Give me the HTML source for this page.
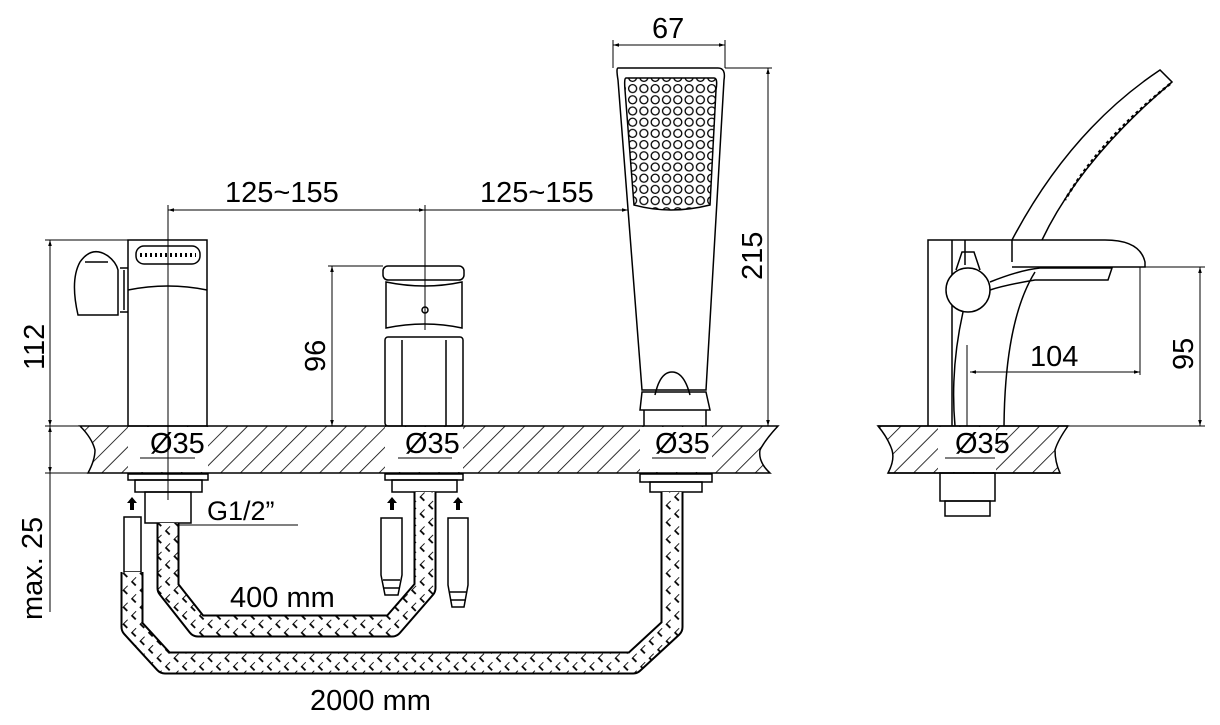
<!DOCTYPE html>
<html><head><style>body{margin:0;background:#fff}svg{display:block}text{font-family:"Liberation Sans",sans-serif;fill:#000}</style></head><body>
<svg width="1220" height="725" viewBox="0 0 1220 725" xmlns="http://www.w3.org/2000/svg">
<defs>
<pattern id="h" width="14" height="14" patternUnits="userSpaceOnUse" patternTransform="rotate(45)"><line x1="0" y1="0" x2="0" y2="14" stroke="#000" stroke-width="1.6"/></pattern>
<pattern id="xh" width="12" height="12" patternUnits="userSpaceOnUse" patternTransform="rotate(45)"><rect width="12" height="12" fill="#fff"/><line x1="0" y1="0" x2="0" y2="6" stroke="#000" stroke-width="1.8"/><line x1="0" y1="6" x2="6" y2="6" stroke="#000" stroke-width="1.8"/></pattern>
<pattern id="dp" x="627" y="83" width="11.3" height="11.2" patternUnits="userSpaceOnUse"><circle cx="5.6" cy="5.6" r="4" fill="none" stroke="#000" stroke-width="1.3"/></pattern>
<marker id="a" viewBox="0 0 10 10" refX="10" refY="5" markerWidth="8" markerHeight="6" orient="auto-start-reverse"><path d="M0,2 L10,5 L0,8z" fill="#000"/></marker>
</defs>
<g fill="none" stroke="#000" stroke-width="1.5">
<path d="M80,426 H778 Q765,440 760,450 Q758,462 770,473 H88 Q95,460 95,450 Q92,438 80,426z" fill="url(#h)"/>
<rect x="128" y="427" width="80" height="45" fill="#fff" stroke="none"/>
<rect x="385" y="427" width="78" height="45" fill="#fff" stroke="none"/>
<rect x="640" y="427" width="72" height="45" fill="#fff" stroke="none"/>
<path d="M878,426 H1068 Q1058,440 1055,450 Q1055,462 1060,473 H888 Q895,460 892,450 Q888,438 878,426z" fill="url(#h)"/>
<rect x="938" y="427" width="58" height="45" fill="#fff" stroke="none"/>
<path d="M878,426 H1068 M888,473 H1060"/>
<rect x="128" y="240" width="79" height="186"/>
<rect x="136" y="246" width="64" height="18" rx="8"/>
<path d="M140,255 H196" stroke-dasharray="2 3" stroke-width="4"/>
<path d="M128,290 Q168,282 207,290"/>
<path d="M124,270 V310 M120,268 H128 M120,312 H128"/>
<path d="M78,315 Q70,280 80,262 Q92,245 108,256 Q116,262 118,270 V315z"/>
<path d="M85,262 H108"/>
<rect x="383" y="266" width="81" height="14" rx="5"/>
<path d="M386,282 Q425,290 462,282 V328 Q425,320 386,328z"/>
<circle cx="425" cy="310" r="3"/>
<rect x="385" y="337" width="78" height="89" rx="3"/>
<path d="M402,340 V426 M446,340 V426"/>
<path d="M618,68 H718 Q726,68 724,80 L706,390 H642 L618,80 Q616,68 618,68z"/>
<path d="M626,78 H714 Q718,78 716,90 L710,205 Q670,215 634,205 L625,90 Q624,78 626,78z" fill="url(#dp)"/>
<path d="M655,395 Q660,372 672,372 Q684,372 690,395"/>
<path d="M642,392 H706 L710,410 H640z M644,410 V426 M706,410 V426"/>
<path d="M928,426 V240 H1105 Q1140,240 1145,262 V267 H1012"/>
<path d="M952,240 V426 M965,240 V265 M1012,240 V262"/>
<circle cx="968" cy="290" r="22" fill="#fff"/>
<path d="M956,270 L962,252 L974,252 L980,270"/>
<path d="M990,282 Q1020,270 1040,268 H1112 L1108,280 H1035 Q1005,285 990,290"/>
<path d="M963,312 Q950,370 955,426 M1035,272 Q1005,320 1004,426"/>
<path d="M1012,240 Q1070,130 1160,70 L1172,82 Q1080,160 1042,240"/>
<path d="M1170,84 Q1100,140 1065,200" stroke-dasharray="3 3" stroke-width="2.5"/>
<rect x="940" y="473" width="55" height="28"/>
<rect x="945" y="501" width="45" height="15"/>
<rect x="128" y="474" width="80" height="6"/><rect x="135" y="480" width="67" height="12"/>
<rect x="145" y="492" width="46" height="31"/>
<path d="M160,525 H298" stroke-width="1"/>
<rect x="385" y="474" width="78" height="6"/><rect x="392" y="480" width="65" height="12"/>
<rect x="640" y="474" width="72" height="8"/><rect x="650" y="482" width="52" height="10"/>
<rect x="124" y="517" width="17" height="55"/>
<path d="M381,518 H402 V575 L398,595 H385 L381,575z"/>
<path d="M448,518 H468 V585 L464,607 H452 L448,585z"/>
<path d="M383,580 H400 M383,588 H400 M450,592 H466 M450,600 H466"/>
</g>
<g fill="#000">
<path d="M132,497 l-5,6 h3 v7 h4 v-7 h3z"/>
<path d="M392,497 l-5,6 h3 v7 h4 v-7 h3z"/>
<path d="M458,497 l-5,6 h3 v7 h4 v-7 h3z"/>
</g>
<g fill="none" stroke-linejoin="round">
<path id="h1" d="M168,523 V588 L198,626 H392 L425,588 V492"/>
<path id="h2" d="M132,572 V627 L165,663 H633 L672,627 V492"/>
<use href="#h1" stroke="#000" stroke-width="23"/><use href="#h1" stroke="url(#xh)" stroke-width="19"/>
<use href="#h2" stroke="#000" stroke-width="23"/><use href="#h2" stroke="url(#xh)" stroke-width="19"/>
</g>
<g fill="none" stroke="#000" stroke-width="1">
<path d="M168,205 V500 M425,205 V330"/>
<path d="M168,210 H425" marker-start="url(#a)" marker-end="url(#a)"/>
<path d="M425,210 H628" marker-end="url(#a)"/>
<path d="M613,40 V68 M725,40 V68"/><path d="M613,45 H725" marker-start="url(#a)" marker-end="url(#a)"/>
<path d="M725,68 H772 M712,426 H772"/><path d="M768,68 V426" marker-start="url(#a)" marker-end="url(#a)"/>
<path d="M45,240 H128 M45,426 H80 M45,473 H88"/><path d="M50,240 V426" marker-start="url(#a)" marker-end="url(#a)"/>
<path d="M50,426 V473" marker-start="url(#a)" marker-end="url(#a)"/><path d="M50,473 V612"/>
<path d="M328,266 H383"/><path d="M332,266 V426" marker-start="url(#a)" marker-end="url(#a)"/>
<path d="M1145,267 H1205 M1010,426 H1205"/><path d="M1200,267 V426" marker-start="url(#a)" marker-end="url(#a)"/>
<path d="M1140,267 V375 M967,345 V426"/><path d="M970,372 H1140" marker-start="url(#a)" marker-end="url(#a)"/>
<path d="M140,458 H195 M398,458 H452 M652,458 H706 M945,458 H995"/>
</g>
<g font-size="29">
<text x="225" y="202">125~155</text>
<text x="480" y="202">125~155</text>
<text x="652" y="38">67</text>
<text x="1030" y="366">104</text>
<text x="230" y="607">400 mm</text>
<text x="310" y="710">2000 mm</text>
<text x="150" y="453">Ø35</text>
<text x="405" y="453">Ø35</text>
<text x="655" y="453">Ø35</text>
<text x="955" y="453">Ø35</text>
<text x="207" y="520" font-size="27">G1/2”</text>
<text transform="translate(44,370) rotate(-90)">112</text>
<text transform="translate(325,372) rotate(-90)">96</text>
<text transform="translate(762,280) rotate(-90)">215</text>
<text transform="translate(1193,370) rotate(-90)">95</text>
<text transform="translate(42,620) rotate(-90)">max. 25</text>
</g>
</svg>
</body></html>
